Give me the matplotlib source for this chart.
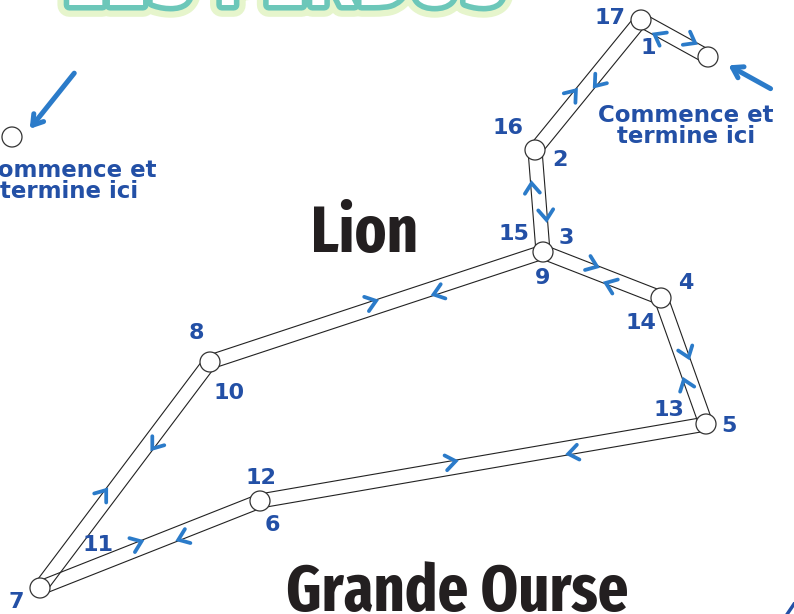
"""Leo constellation tracing path (Lion), drawn in pixel coordinates."""

import matplotlib

matplotlib.use("Agg")

import matplotlib.patheffects as pe
import matplotlib.pyplot as plt
import numpy as np
from matplotlib import font_manager as fm
from matplotlib.patches import Circle, FancyArrowPatch

# star positions (image pixels, y pointing down)
star_names = ["S", "A", "B", "C", "D", "E", "F", "G", "H"]
star_x = [708, 641, 535, 543, 661, 706, 260, 40, 210]
star_y = [57, 20, 150, 252, 298, 424, 501, 588, 362]

# order in which the stars are visited
route = ["S", "A", "B", "C", "D", "E", "F", "G", "H", "C",
         "H", "G", "F", "E", "D", "C", "B", "A", "S"]
# where along each step the direction chevron sits (fraction of step)
chevron_frac = [0.69, 0.45, 0.64, 0.40, 0.45, 0.30, 0.36, 0.40, 0.49,
                0.32, 0.35, 0.45, 0.43, 0.33, 0.41, 0.63, 0.40, 0.70]

step_labels = [str(i) for i in range(1, 18)]
label_x = [648, 560, 566, 686, 729, 272, 16, 196, 543,
           229, 98, 261, 669, 641, 514, 508, 610]
label_y = [48, 160, 238, 283, 426, 525, 602, 333, 278,
           393, 545, 478, 410, 323, 234, 128, 18]

BLUE = "#2b7bc9"
NAVY = "#2350a6"
INK = "#231f20"


def narrow_bold():
    """Pick the narrowest bold face that is installed."""
    ranks = ["ExtraCondensed", "Narrow", "Condensed"]
    found = {}
    for f in fm.fontManager.ttflist:
        name = f.fname.split("/")[-1]
        if "Italic" in name or "Oblique" in name:
            continue
        if not (f.weight in ("bold", 700) or "-Bold." in name or "_Bold." in name):
            continue
        if "SemiCondensed" in name or "SemiBold" in name:
            continue
        for i, key in enumerate(ranks):
            if key in name or key in f.name:
                found.setdefault(i, f.fname)
                break
    if not found:
        return None
    return fm.FontProperties(fname=found[min(found)])


W, H = 794, 614
fig = plt.figure(figsize=(W / 100, H / 100), dpi=100)
ax = fig.add_axes([0, 0, 1, 1])
ax.set_xlim(0, W)
ax.set_ylim(H, 0)
ax.axis("off")

pos = {n: np.array([x, y], dtype=float) for n, x, y in zip(star_names, star_x, star_y)}

# title, mostly cut off by the top edge
ax.text(285, 5, "LES PERDUS", fontsize=46, fontweight="bold", color="white",
        ha="center", va="baseline",
        path_effects=[pe.withStroke(linewidth=17, foreground="#e6f5cc"),
                      pe.withStroke(linewidth=8, foreground="#6cc7b9")])

# double-line edges: two thin parallel strokes per edge
edges = []
for a, b in zip(route[:-1], route[1:]):
    key = tuple(sorted((a, b)))
    if key not in edges:
        edges.append(key)
for a, b in edges:
    p0, p1 = pos[a], pos[b]
    d = (p1 - p0) / np.linalg.norm(p1 - p0)
    n = np.array([d[1], -d[0]])
    for s in (-7, 7):
        q0, q1 = p0 + s * n, p1 + s * n
        ax.plot([q0[0], q1[0]], [q0[1], q1[1]], color="#222222", lw=0.8, zorder=2)

# star circles
for n in star_names:
    ax.add_patch(Circle(pos[n], 10, facecolor="white", edgecolor="#333333",
                        lw=0.9, zorder=4))
ax.add_patch(Circle((12, 137), 10, facecolor="white", edgecolor="#333333",
                    lw=0.9, zorder=4))

# direction chevrons, on the left-hand side of travel
for (a, b), f in zip(zip(route[:-1], route[1:]), chevron_frac):
    p0, p1 = pos[a], pos[b]
    d = (p1 - p0) / np.linalg.norm(p1 - p0)
    n = np.array([d[1], -d[0]])
    c = p0 + f * (p1 - p0) + 6 * n
    pts = np.array([c - 5 * d + 7.5 * n, c + 5 * d, c - 5 * d - 7.5 * n])
    ax.plot(pts[:, 0], pts[:, 1], color=BLUE, lw=2.7, solid_capstyle="round",
            solid_joinstyle="miter", zorder=5)

for t, x, y in zip(step_labels, label_x, label_y):
    ax.text(x, y, t, color=NAVY, fontsize=16, fontweight="bold",
            ha="center", va="center", zorder=6)

# start / end notes
for cx, cy in [(686, 126), (69, 181)]:
    ax.text(cx, cy, "Commence et\ntermine ici", color=NAVY, fontsize=16.5,
            fontweight="bold", ha="center", va="center", linespacing=0.92)

for tail, head in [((773, 90), (726, 64)), ((76, 71), (28, 131))]:
    ax.add_patch(FancyArrowPatch(tail, head, arrowstyle="->,head_length=7,head_width=4.5",
                                 color=BLUE, lw=3.6, capstyle="round", zorder=5))

cond = narrow_bold()
big_kw = dict(fontproperties=cond) if cond else dict(fontweight="bold")
big_size = 47 if cond else 34
ax.text(364, 252, "Lion", color=INK, fontsize=big_size, ha="center",
        va="baseline", **big_kw)
ax.text(457, 611, "Grande Ourse", color=INK, fontsize=big_size,
        ha="center", va="baseline", **big_kw)
ax.text(783, 624, "4", color=NAVY, fontsize=22, fontweight="bold",
        ha="left", va="baseline")

fig.savefig("out.png", dpi=100)
